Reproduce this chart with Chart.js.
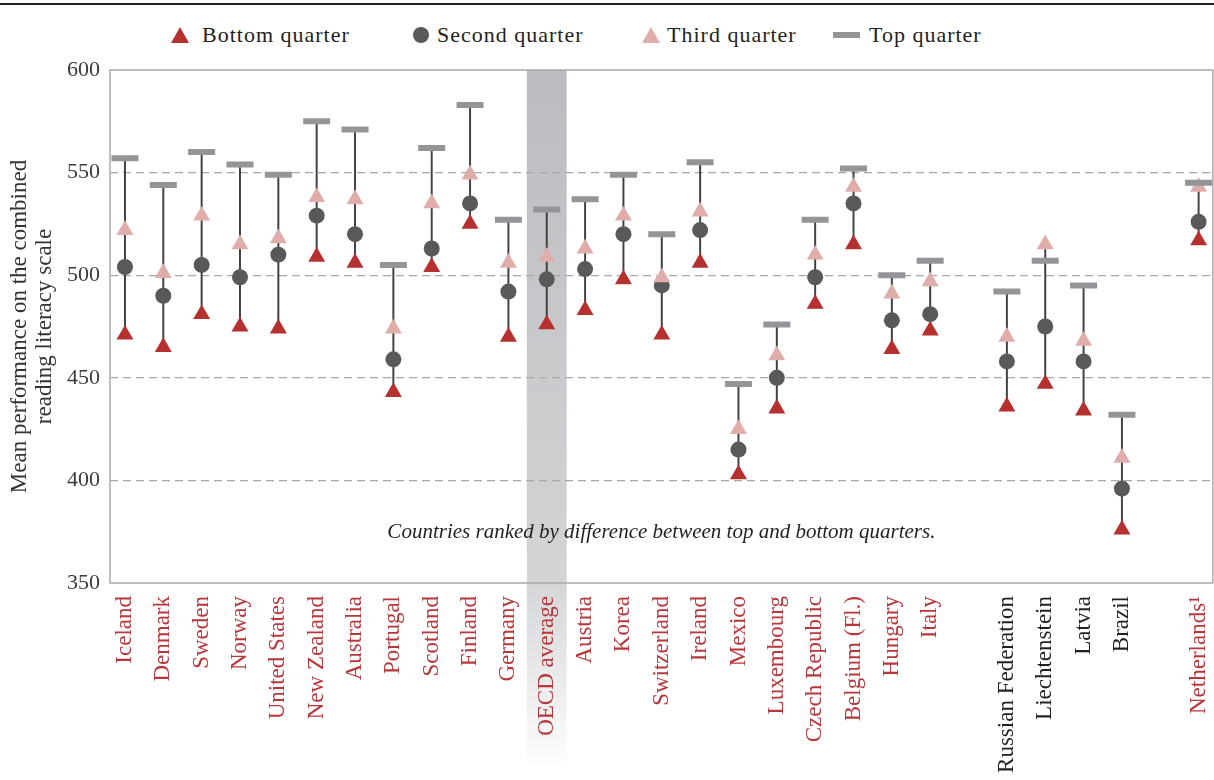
<!DOCTYPE html>
<html>
<head>
<meta charset="utf-8">
<script src="https://cdn.jsdelivr.net/npm/chart.js@4.4.1/dist/chart.umd.min.js"></script>
<style>
  html, body { margin: 0; padding: 0; background: #fff; }
  #wrap { position: relative; width: 1214px; height: 780px; overflow: hidden; }
  #rule { position: absolute; left: 0; top: 3px; width: 1214px; height: 2px; background: #231f20; }
  #legend { position: absolute; left: 0; top: 0; width: 1214px; height: 60px;
            font-family: 'Liberation Serif', serif; font-size: 22px; color: #231f20; letter-spacing: 1px; }
  .item { position: absolute; top: 22px; height: 26px; display: flex; align-items: center; white-space: nowrap; }
  #chart { position: absolute; left: 0; top: 0; }
</style>
</head>
<body>
<div id="wrap">
  <div id="rule"></div>
  <div id="legend"></div>
  <canvas id="chart" width="1214" height="780"></canvas>
</div>
<script>
// countries, ranked by difference between top and bottom quarters
const countries = ['Iceland', 'Denmark', 'Sweden', 'Norway', 'United States', 'New Zealand', 'Australia',
  'Portugal', 'Scotland', 'Finland', 'Germany', 'OECD average', 'Austria', 'Korea', 'Switzerland', 'Ireland',
  'Mexico', 'Luxembourg', 'Czech Republic', 'Belgium (Fl.)', 'Hungary', 'Italy',
  'Russian Federation', 'Liechtenstein', 'Latvia', 'Brazil', 'Netherlands\u00B9'];
// slot on the x axis (gaps before the partner countries and before Netherlands)
const slots = [0, 1, 2, 3, 4, 5, 6, 7, 8, 9, 10, 11, 12, 13, 14, 15, 16, 17, 18, 19, 20, 21, 23, 24, 25, 26, 28];
const partner = [false, false, false, false, false, false, false, false, false, false, false, false, false, false,
  false, false, false, false, false, false, false, false, true, true, true, true, false];

const seriesNames = ['Bottom quarter', 'Second quarter', 'Third quarter', 'Top quarter'];
const bottomQ = [471, 465, 481, 475, 474, 509, 506, 443, 504, 525, 470, 476, 483, 498, 471, 506, 403, 435, 486, 515, 464, 473, 436, 447, 434, 376, 517];
const secondQ = [504, 490, 505, 499, 510, 529, 520, 459, 513, 535, 492, 498, 503, 520, 495, 522, 415, 450, 499, 535, 478, 481, 458, 475, 458, 396, 526];
const thirdQ  = [522, 501, 529, 515, 518, 538, 537, 474, 535, 549, 506, 509, 513, 529, 499, 531, 425, 461, 510, 543, 491, 497, 470, 515, 468, 411, 543];
const topQ    = [557, 544, 560, 554, 549, 575, 571, 505, 562, 583, 527, 532, 537, 549, 520, 555, 447, 476, 527, 552, 500, 507, 492, 507, 495, 432, 545];

const yTicks = [350, 400, 450, 500, 550, 600];
const yTitle = ['Mean performance on the combined', 'reading literacy scale'];
const note = 'Countries ranked by difference between top and bottom quarters.';
const highlight = 'OECD average';

const RED = '#b5302e';
const DARK = '#58595b';
const PINK = '#e0aeaa';
const GREY = '#939598';
const SERIF = "'Liberation Serif', 'Times New Roman', serif";
const X_MIN = -0.39;
const X_MAX = 28.37;

// legend (html)
const legendEl = document.getElementById('legend');
const legendSpec = [
  { kind: 'tri', color: RED, left: 171, gap: 13 },
  { kind: 'dot', color: DARK, left: 413, gap: 8 },
  { kind: 'tri', color: PINK, left: 642, gap: 7 },
  { kind: 'bar', color: GREY, left: 833, gap: 9 }
];
legendSpec.forEach((s, i) => {
  const item = document.createElement('div');
  item.className = 'item';
  item.style.left = s.left + 'px';
  const mk = document.createElement('span');
  mk.style.display = 'inline-block';
  mk.style.marginRight = s.gap + 'px';
  if (s.kind === 'tri') {
    mk.style.width = '0'; mk.style.height = '0';
    mk.style.borderLeft = '9px solid transparent';
    mk.style.borderRight = '9px solid transparent';
    mk.style.borderBottom = '16px solid ' + s.color;
  } else if (s.kind === 'dot') {
    mk.style.width = '16px'; mk.style.height = '16px';
    mk.style.borderRadius = '50%'; mk.style.background = s.color;
  } else {
    mk.style.width = '27px'; mk.style.height = '6px'; mk.style.background = s.color;
  }
  item.appendChild(mk);
  item.appendChild(document.createTextNode(seriesNames[i]));
  legendEl.appendChild(item);
});

function points(vals) {
  return vals.map((v, i) => ({ x: slots[i], y: v }));
}

function isCountryTick(c) {
  return !!(c.tick && slots.includes(c.tick.value));
}

const whiskers = slots.map((x, i) => {
  const vals = [bottomQ[i], secondQ[i], thirdQ[i], topQ[i]];
  return { x: x, y: [Math.min(...vals), Math.max(...vals)] };
});

// grey band behind the OECD average, fading out below the labels
const bandPlugin = {
  id: 'band',
  beforeDraw(chart) {
    const xs = chart.scales.x;
    const idx = countries.indexOf(highlight);
    const x0 = xs.getPixelForValue(slots[idx] - 0.52);
    const x1 = xs.getPixelForValue(slots[idx] + 0.52);
    const top = chart.chartArea.top;
    const bottom = chart.height - 8;
    const ctx = chart.ctx;
    const g = ctx.createLinearGradient(0, top, 0, bottom);
    g.addColorStop(0, '#bbbcbf');
    g.addColorStop(0.72, '#d3d4d6');
    g.addColorStop(1, 'rgba(255,255,255,1)');
    ctx.save();
    ctx.fillStyle = g;
    ctx.fillRect(x0, top, x1 - x0, bottom - top);
    ctx.restore();
  }
};

// plot frame and the italic note
const framePlugin = {
  id: 'frame',
  beforeDatasetsDraw(chart) {
    const a = chart.chartArea;
    const ctx = chart.ctx;
    ctx.save();
    ctx.strokeStyle = '#a7a9ac';
    ctx.lineWidth = 1.5;
    ctx.strokeRect(a.left, a.top, a.right - a.left, a.bottom - a.top);
    ctx.font = 'italic 21px ' + SERIF;
    ctx.fillStyle = '#231f20';
    ctx.textAlign = 'center';
    ctx.textBaseline = 'middle';
    ctx.fillText(note, (a.left + a.right) / 2, chart.scales.y.getPixelForValue(374.6));
    ctx.restore();
  }
};

new Chart(document.getElementById('chart'), {
  type: 'scatter',
  data: {
    datasets: [
      {
        type: 'bar',
        label: 'range',
        data: whiskers,
        backgroundColor: '#404040',
        barThickness: 1.3,
        order: 10
      },
      {
        label: seriesNames[0],
        data: points(bottomQ),
        pointStyle: 'triangle',
        pointRadius: 9.8,
        pointBackgroundColor: RED,
        pointBorderWidth: 0,
        order: 4
      },
      {
        label: seriesNames[1],
        data: points(secondQ),
        pointStyle: 'circle',
        pointRadius: 8,
        pointBackgroundColor: DARK,
        pointBorderWidth: 0,
        order: 3
      },
      {
        label: seriesNames[2],
        data: points(thirdQ),
        pointStyle: 'triangle',
        pointRadius: 9.8,
        pointBackgroundColor: PINK,
        pointBorderWidth: 0,
        order: 2
      },
      {
        label: seriesNames[3],
        data: points(topQ),
        pointStyle: 'line',
        pointRadius: 13.5,
        pointBorderColor: GREY,
        pointBorderWidth: 6,
        order: 1
      }
    ]
  },
  options: {
    responsive: false,
    animation: false,
    events: [],
    // no automatic room for the wide top-quarter markers: the frame runs to the page edge
    layout: { autoPadding: false, padding: { top: 70, right: 1, left: 0, bottom: 0 } },
    plugins: { legend: { display: false }, tooltip: { enabled: false } },
    scales: {
      x: {
        type: 'linear',
        min: X_MIN,
        max: X_MAX,
        offset: false,
        // invisible tick marks only used as the gap between axis and labels
        grid: { display: false, drawTicks: true, tickLength: 13, offset: false },
        border: { display: false },
        // an empty tick at the right end keeps Chart.js from reserving room for the last rotated label
        afterBuildTicks: s => { s.ticks = slots.concat([X_MAX]).map(v => ({ value: v })); },
        afterFit: s => { s.height = 197; },
        ticks: {
          autoSkip: false,
          minRotation: 90,
          maxRotation: 90,
          padding: 0,
          font: c => ({ family: SERIF, size: (c.tick && !isCountryTick(c)) ? 1 : 23 }),
          color: c => (isCountryTick(c) && partner[slots.indexOf(c.tick.value)]) ? '#231f20' : '#b8373a',
          callback: v => { const i = slots.indexOf(v); return i < 0 ? '' : countries[i]; }
        }
      },
      y: {
        min: 350,
        max: 600,
        beginAtZero: false,
        afterBuildTicks: s => { s.ticks = yTicks.map(v => ({ value: v })); },
        afterFit: s => { s.width = 110; },
        grid: {
          drawTicks: false,
          lineWidth: 1.2,
          color: c => (c.tick && (c.tick.value === 350 || c.tick.value === 600)) ? 'rgba(0,0,0,0)' : '#a8a8a8'
        },
        border: { display: false, dash: [8, 5] },
        ticks: { padding: 10, color: '#3b3b3b', font: { family: SERIF, size: 22 } },
        title: {
          display: true,
          text: yTitle,
          color: '#333333',
          padding: { top: 7, bottom: 0 },
          font: { family: SERIF, size: 23, lineHeight: 1.1 }
        }
      }
    }
  },
  plugins: [bandPlugin, framePlugin]
});
</script>
</body>
</html>
